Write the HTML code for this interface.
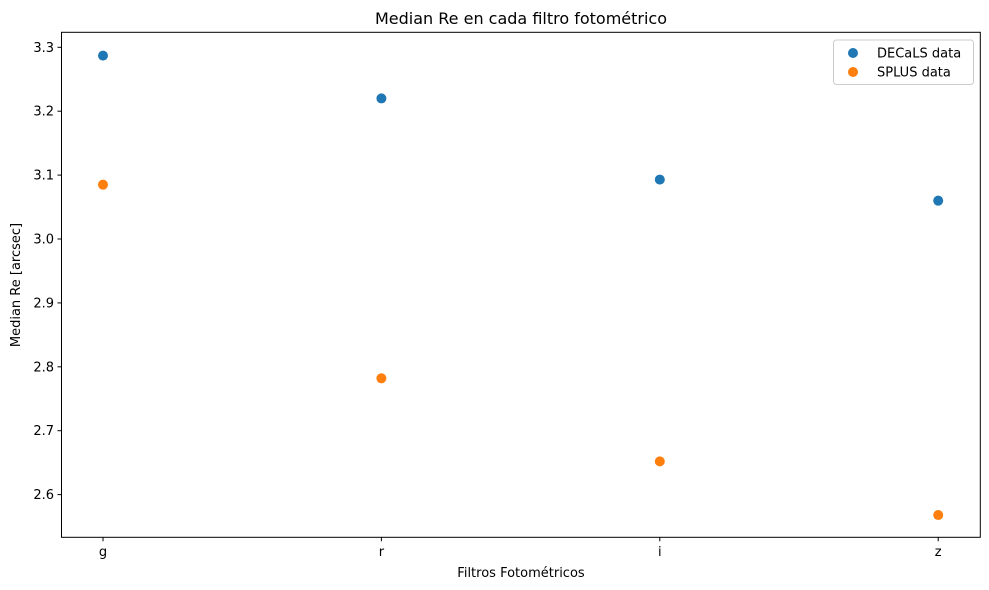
<!DOCTYPE html>
<html><head><meta charset="utf-8"><style>
body{margin:0;background:#fff}
svg{display:block;font-family:"DejaVu Sans","Liberation Sans",sans-serif}
</style></head><body>
<svg id="chart" width="989" height="590" viewBox="0 0 989 590" xmlns="http://www.w3.org/2000/svg">
<rect width="989" height="590" fill="#fff"/>
<text x="521" y="24" font-size="16" text-anchor="middle" fill="#000">Median Re en cada filtro fotométrico</text>
<g id="plot"></g>
<rect x="61.5" y="32.3" width="918.8" height="505" fill="none" stroke="#000" stroke-width="1"/>
<text x="521" y="577" font-size="13" text-anchor="middle">Filtros Fotométricos</text>
<text transform="translate(20,285) rotate(-90)" font-size="13" text-anchor="middle">Median Re [arcsec]</text>
<g>
<rect x="833.5" y="40" width="140" height="44.5" fill="#fff" stroke="#ccc" rx="3"/>
<circle cx="853" cy="53" r="5" fill="#1f77b4"/>
<text x="877" y="57.5" font-size="13">DECaLS data</text>
<circle cx="853" cy="72" r="5" fill="#ff7f0e"/>
<text x="877" y="76.5" font-size="13">SPLUS data</text>
</g>
</svg>
<script>
const categories = ["g","r","i","z"];
const decals = [3.287, 3.220, 3.093, 3.060];
const splus = [3.085, 2.782, 2.652, 2.568];
const yTicks = [2.6, 2.7, 2.8, 2.9, 3.0, 3.1, 3.2, 3.3];
const NS = "http://www.w3.org/2000/svg";
const g = document.getElementById("plot");
function xs(i){return 103 + i*278.4;}
function ys(v){return 47.3 + (3.3 - v)*639;}
function mk(tag, attrs){const e=document.createElementNS(NS,tag);for(const k in attrs)e.setAttribute(k,attrs[k]);g.appendChild(e);return e;}
yTicks.forEach(t=>{
  const y=ys(t);
  const l=mk("line",{x1:57.5,x2:61.5,y1:y,y2:y,stroke:"#000"});
  
  
  const tx=mk("text",{x:54,y:y+4.5,"font-size":13,"text-anchor":"end"});
  tx.textContent=t.toFixed(1);
  
  
});
categories.forEach((c,i)=>{
  const x=xs(i);
  const l=mk("line",{x1:x,x2:x,y1:537.3,y2:541.3,stroke:"#000"});
  
  
  const tx=mk("text",{x:x,y:556,"font-size":13,"text-anchor":"middle"});
  tx.textContent=c;
  
  
});
decals.forEach((v,i)=>{
  const p=mk("circle",{cx:xs(i),cy:ys(v),r:5,fill:"#1f77b4"});
  
  
});
splus.forEach((v,i)=>{
  const p=mk("circle",{cx:xs(i),cy:ys(v),r:5,fill:"#ff7f0e"});
  
  
});
</script>
</body></html>
